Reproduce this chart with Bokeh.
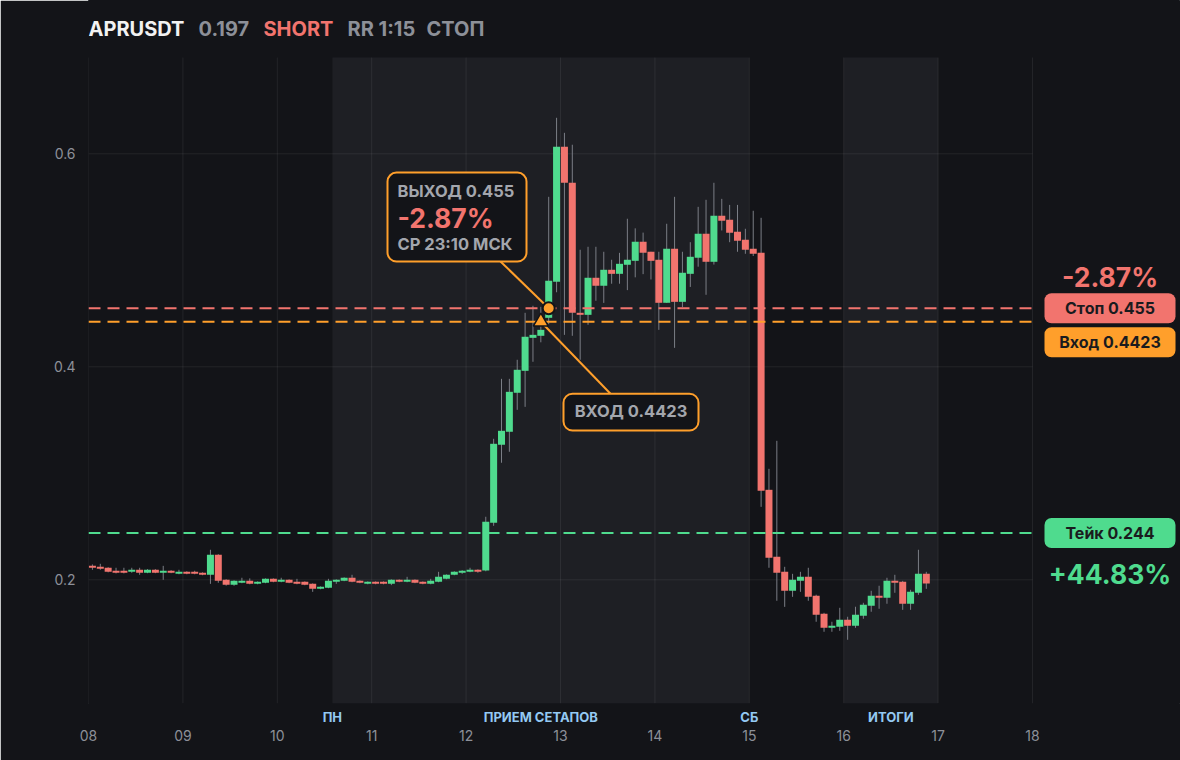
from bokeh.plotting import figure
from bokeh.models import Range1d, LinearAxis, FixedTicker, Label, BoxAnnotation, ColumnDataSource
from bokeh.embed import file_html
from bokeh.resources import INLINE

# ---------------- data ----------------
symbol = "APRUSDT"
last_price = "0.197"
side = "SHORT"
rr_text = "RR 1:15"
status_text = "СТОП"

start_day = 8.0          # first candle starts on day 08
candle_step = 1.0 / 12   # 2h candles

open_ = [0.2131, 0.2122, 0.2113, 0.2085, 0.2085, 0.2075, 0.2094, 0.2066, 0.2094, 0.2066,
         0.2085, 0.2056, 0.2075, 0.2075, 0.2066, 0.2047, 0.2235, 0.2000, 0.1953, 0.1972,
         0.1991, 0.1962, 0.1972, 0.2009, 0.1981, 0.2000, 0.1981, 0.1981, 0.1962, 0.1915,
         0.1925, 0.1981, 0.1991, 0.2019, 0.1991, 0.1962, 0.1981, 0.1981, 0.1962, 0.2000,
         0.1981, 0.2000, 0.1981, 0.1962, 0.1981, 0.2009, 0.2047, 0.2066, 0.2075, 0.2094,
         0.2087, 0.2535, 0.3268, 0.3390, 0.3756, 0.3962, 0.4272, 0.4291, 0.4460, 0.4798,
         0.6066, 0.5728, 0.4507, 0.4488, 0.4836, 0.4761, 0.4911, 0.4873, 0.4958, 0.4995,
         0.5174, 0.5080, 0.5005, 0.4601, 0.5108, 0.4610, 0.4873, 0.5024, 0.5249, 0.4986,
         0.5418, 0.5380, 0.5268, 0.5192, 0.5108, 0.5070, 0.2845, 0.2216, 0.2075, 0.1897,
         0.1991, 0.2028, 0.1850, 0.1681, 0.1549, 0.1559, 0.1624, 0.1568, 0.1662, 0.1756,
         0.1850, 0.1831, 0.1991, 0.1981, 0.1775, 0.1878, 0.2056]
high = [0.2144, 0.2150, 0.2118, 0.2113, 0.2113, 0.2113, 0.2113, 0.2100, 0.2100, 0.2131,
        0.2090, 0.2094, 0.2080, 0.2085, 0.2070, 0.2282, 0.2240, 0.2005, 0.1995, 0.2019,
        0.2013, 0.1985, 0.2013, 0.2013, 0.2019, 0.2004, 0.2009, 0.1985, 0.1966, 0.1938,
        0.2009, 0.2004, 0.2023, 0.2047, 0.1995, 0.1985, 0.1985, 0.1985, 0.2004, 0.2004,
        0.2028, 0.2004, 0.1985, 0.2009, 0.2075, 0.2051, 0.2080, 0.2090, 0.2113, 0.2098,
        0.2592, 0.3324, 0.3887, 0.3887, 0.4066, 0.4507, 0.4573, 0.4563, 0.5596, 0.6338,
        0.6197, 0.6085, 0.5099, 0.5127, 0.5127, 0.5080, 0.5005, 0.5070, 0.5390, 0.5300,
        0.5260, 0.5080, 0.5080, 0.5343, 0.5596, 0.5080, 0.5170, 0.5502, 0.5568, 0.5728,
        0.5577, 0.5520, 0.5520, 0.5296, 0.5465, 0.5399, 0.3042, 0.3305, 0.2122, 0.2056,
        0.2075, 0.2113, 0.1860, 0.1690, 0.1606, 0.1737, 0.1653, 0.1747, 0.1784, 0.1897,
        0.1944, 0.2019, 0.2047, 0.1990, 0.1906, 0.2282, 0.2075]
low = [0.2094, 0.2094, 0.2070, 0.2060, 0.2060, 0.2066, 0.2047, 0.2062, 0.2062, 0.2000,
       0.2062, 0.2052, 0.2052, 0.2052, 0.2043, 0.1962, 0.1972, 0.1945, 0.1944, 0.1968,
       0.1958, 0.1958, 0.1968, 0.1977, 0.1977, 0.1968, 0.1958, 0.1949, 0.1887, 0.1911,
       0.1921, 0.1962, 0.1987, 0.1977, 0.1968, 0.1958, 0.1958, 0.1958, 0.1950, 0.1977,
       0.1977, 0.1968, 0.1958, 0.1958, 0.1977, 0.2005, 0.2043, 0.2056, 0.2071, 0.2066,
       0.2080, 0.2507, 0.3099, 0.3202, 0.3596, 0.3624, 0.4047, 0.4230, 0.4400, 0.4700,
       0.4300, 0.4291, 0.4066, 0.4394, 0.4620, 0.4600, 0.4780, 0.4780, 0.4720, 0.4840,
       0.4870, 0.4820, 0.4347, 0.4600, 0.4178, 0.4560, 0.4750, 0.4940, 0.4676, 0.4960,
       0.5280, 0.5170, 0.5080, 0.5061, 0.5040, 0.2685, 0.2113, 0.1803, 0.1746, 0.1840,
       0.1887, 0.1803, 0.1606, 0.1512, 0.1512, 0.1521, 0.1437, 0.1549, 0.1634, 0.1700,
       0.1728, 0.1775, 0.1878, 0.1718, 0.1718, 0.1859, 0.1915]
close = [0.2113, 0.2103, 0.2075, 0.2066, 0.2066, 0.2094, 0.2066, 0.2094, 0.2066, 0.2085,
         0.2066, 0.2075, 0.2056, 0.2056, 0.2047, 0.2235, 0.1991, 0.1953, 0.1991, 0.1991,
         0.1962, 0.1981, 0.2009, 0.1981, 0.2000, 0.1972, 0.1962, 0.1953, 0.1915, 0.1934,
         0.1991, 0.2000, 0.2019, 0.1981, 0.1972, 0.1981, 0.1962, 0.1962, 0.2000, 0.1981,
         0.2000, 0.1972, 0.1962, 0.1991, 0.2028, 0.2047, 0.2075, 0.2085, 0.2094, 0.2075,
         0.2545, 0.3277, 0.3399, 0.3765, 0.3972, 0.4282, 0.4300, 0.4347, 0.4808, 0.6066,
         0.5728, 0.4507, 0.4488, 0.4836, 0.4761, 0.4911, 0.4873, 0.4967, 0.5005, 0.5174,
         0.5070, 0.4995, 0.4601, 0.5108, 0.4610, 0.4883, 0.5033, 0.5249, 0.4986, 0.5418,
         0.5371, 0.5258, 0.5183, 0.5099, 0.5061, 0.2836, 0.2207, 0.2066, 0.1897, 0.2000,
         0.2028, 0.1840, 0.1671, 0.1549, 0.1568, 0.1624, 0.1568, 0.1671, 0.1765, 0.1850,
         0.1831, 0.1991, 0.1972, 0.1775, 0.1887, 0.2056, 0.1965]

stop_level = 0.455
entry_level = 0.4423
take_level = 0.244
entry_index = 57
exit_index = 58
stop_pct = "-2.87%"
take_pct = "+44.83%"
exit_lines = ["ВЫХОД 0.455", "-2.87%", "СР 23:10 МСК"]
entry_text = "ВХОД 0.4423"
stop_tag = "Стоп 0.455"
entry_tag = "Вход 0.4423"
take_tag = "Тейк 0.244"

day_ticks = [8, 9, 10, 11, 12, 13, 14, 15, 16, 17, 18]
day_labels = ["08", "09", "10", "11", "12", "13", "14", "15", "16", "17", "18"]
y_ticks = [0.2, 0.4, 0.6]

band_start = [10.5833, 16.0]
band_end = [15.0, 17.0]
session_x = [10.5833, 12.7917, 15.0, 16.5]
session_labels = ["ПН", "ПРИЕМ СЕТАПОВ", "СБ", "ИТОГИ"]

# ---------------- style ----------------
BG = "#131418"
BAND = "#1e1f24"
RED = "#f2746e"
GREEN = "#4fdb8e"
ORANGE = "#ff9f2b"
GREY = "#8d9098"
TGREY = "#a3a6ad"
BLUE = "#94c9f3"
WICK = "#7b7e86"
FONT = "Inter"

W, H = 1180, 760
LEFT, BOTTOM = 88, 57
PXX = 1 / 94.4    # days per pixel
PXY = 1 / 1065.0  # price per pixel
X_START = 8.0
X_END = X_START + (W - LEFT) * PXX
Y_START = 0.08385
Y_END = Y_START + (H - BOTTOM) * PXY
PLOT_TOP = 0.6904   # upper edge of the price pane

p = figure(width=W, height=H, output_backend="svg", toolbar_location=None,
           x_range=Range1d(X_START, X_END), y_range=Range1d(Y_START, Y_END),
           x_axis_location=None, y_axis_location="left",
           min_border_left=LEFT, min_border_right=0, min_border_top=0, min_border_bottom=BOTTOM,
           background_fill_color=BG, border_fill_color=BG,
           outline_line_color=BG, outline_line_width=1, outline_line_alpha=1)
p.grid.visible = False

ya = p.yaxis[0]
ya.ticker = FixedTicker(ticks=y_ticks)
ya.axis_line_color = None
ya.major_tick_line_color = None
ya.minor_tick_line_color = None
ya.major_tick_out = 0
ya.major_label_standoff = 13
ya.major_label_text_color = GREY
ya.major_label_text_font = FONT
ya.major_label_text_font_size = "14px"

session_axis = LinearAxis(ticker=FixedTicker(ticks=session_x),
                          major_label_overrides={x: t for x, t in zip(session_x, session_labels)},
                          axis_line_color=None, major_tick_line_color=None, minor_tick_line_color=None,
                          major_tick_out=0, major_tick_in=0, major_label_standoff=5,
                          major_label_text_color=BLUE, major_label_text_font=FONT,
                          major_label_text_font_size="13px", major_label_text_font_style="bold")
p.add_layout(session_axis, "below")
date_axis = LinearAxis(ticker=FixedTicker(ticks=day_ticks),
                       major_label_overrides={x: t for x, t in zip(day_ticks, day_labels)},
                       axis_line_color=None, major_tick_line_color=None, minor_tick_line_color=None,
                       major_tick_out=0, major_tick_in=0, major_label_standoff=2,
                       major_label_text_color=GREY, major_label_text_font=FONT,
                       major_label_text_font_size="14px")
p.add_layout(date_axis, "below")

# session bands
p.quad(left=band_start, right=band_end, bottom=Y_START, top=PLOT_TOP, fill_color=BAND, line_color=None)

# grid
p.segment(x0=day_ticks, x1=day_ticks, y0=Y_START, y1=PLOT_TOP, line_color="white", line_alpha=0.07, line_width=1)
p.segment(x0=day_ticks[0], x1=day_ticks[-1], y0=y_ticks, y1=y_ticks, line_color="white", line_alpha=0.07, line_width=1)

# candles
xs = [start_day + (i + 0.5) * candle_step for i in range(len(open_))]
src = ColumnDataSource(dict(
    x=xs, high=high, low=low,
    top=[max(o, c) for o, c in zip(open_, close)],
    bottom=[min(o, c) for o, c in zip(open_, close)],
    color=[GREEN if c >= o else RED for o, c in zip(open_, close)],
))
p.segment(x0="x", x1="x", y0="low", y1="high", line_color=WICK, line_width=1, source=src)
p.vbar(x="x", width=candle_step * 0.89, top="top", bottom="bottom", fill_color="color",
       line_color=None, source=src)

# level lines
for lvl, col in [(stop_level, RED), (entry_level, ORANGE), (take_level, GREEN)]:
    p.segment(x0=day_ticks[0], x1=day_ticks[-1], y0=lvl, y1=lvl, line_color=col,
              line_width=2, line_dash="12 7")

# callout geometry
ex_x = xs[exit_index]
en_x = xs[entry_index]
b1 = dict(left=8 + 299 * PXX, right=8 + 438 * PXX, top=0.5824, bottom=0.4989)
b2 = dict(left=8 + 475 * PXX, right=8 + 610 * PXX, top=0.3747, bottom=0.3402)
p.line(x=[8 + 412 * PXX, ex_x], y=[b1["bottom"], stop_level], line_color=ORANGE, line_width=2)
p.line(x=[en_x, 8 + 522 * PXX], y=[entry_level, b2["top"]], line_color=ORANGE, line_width=2)

p.scatter(x=[en_x], y=[entry_level], marker="triangle", size=15, fill_color=ORANGE,
          line_color=BG, line_width=1.5)
p.scatter(x=[ex_x], y=[stop_level], marker="circle", size=12, fill_color=ORANGE,
          line_color=BG, line_width=2)

for b in (b1, b2):
    p.add_layout(BoxAnnotation(fill_color=BG, fill_alpha=1, line_color=ORANGE, line_alpha=1,
                               line_width=2, border_radius=9, **b))

tx = b1["left"] + 10 * PXX
p.add_layout(Label(x=tx, y=0.5655, text=exit_lines[0], text_font=FONT, text_font_style="bold",
                   text_font_size="16.5px", text_color=TGREY, text_baseline="middle"))
p.add_layout(Label(x=tx, y=0.5397, text=exit_lines[1], text_font=FONT, text_font_style="bold",
                   text_font_size="26.5px", text_color=RED, text_baseline="middle"))
p.add_layout(Label(x=tx, y=0.5151, text=exit_lines[2], text_font=FONT, text_font_style="bold",
                   text_font_size="16.5px", text_color=TGREY, text_baseline="middle"))
p.add_layout(Label(x=(b2["left"] + b2["right"]) / 2, y=0.3582, text=entry_text, text_font=FONT,
                   text_font_style="bold", text_font_size="16.5px", text_color=TGREY,
                   text_align="center", text_baseline="middle"))

# right-side tags
tag_l = 8 + 956 * PXX
tag_r = 8 + 1087 * PXX
tag_c = (tag_l + tag_r) / 2
half_h = 15 * PXY
tags = [(stop_level, stop_tag, RED), (stop_level - 34 * PXY, entry_tag, ORANGE), (take_level, take_tag, GREEN)]
for yc, txt, col in tags:
    p.add_layout(BoxAnnotation(left=tag_l, right=tag_r, top=yc + half_h, bottom=yc - half_h,
                               fill_color=col, fill_alpha=1, line_color=None, border_radius=7))
    p.add_layout(Label(x=tag_c, y=yc, text=txt, text_font=FONT, text_font_style="bold",
                       text_font_size="16px", text_color="#1a1b1e", text_align="center",
                       text_baseline="middle"))
p.add_layout(Label(x=tag_c, y=stop_level + 31.5 * PXY, text=stop_pct, text_font=FONT, text_font_style="bold",
                   text_font_size="26.5px", text_color=RED, text_align="center", text_baseline="middle"))
p.add_layout(Label(x=tag_c, y=take_level - 41 * PXY, text=take_pct, text_font=FONT, text_font_style="bold",
                   text_font_size="26.5px", text_color=GREEN, text_align="center", text_baseline="middle"))

# header
hy = 0.7173
header = [(symbol, "#f2f2f2", 0), (last_price, GREY, 110), (side, RED, 175), (rr_text, GREY, 259), (status_text, GREY, 338)]
for txt, col, off in header:
    p.add_layout(Label(x=8 + off * PXX, y=hy, text=txt, text_font=FONT, text_font_style="bold",
                       text_font_size="20px", text_color=col, text_baseline="middle"))

open("out.html", "w").write(file_html(p, INLINE))
